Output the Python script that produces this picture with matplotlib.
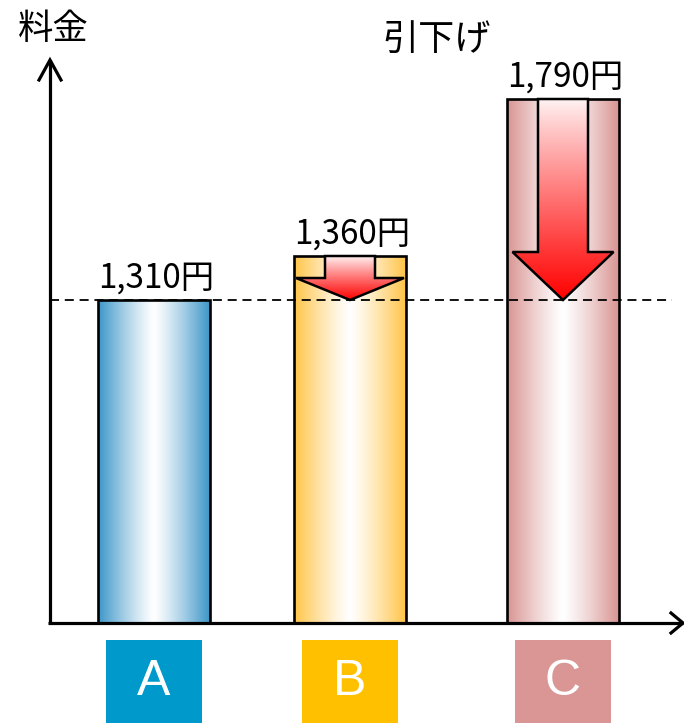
import numpy as np
import matplotlib
matplotlib.use("Agg")
import matplotlib.pyplot as plt
from matplotlib.patches import Rectangle, Polygon
from matplotlib.colors import to_rgb

plt.rcParams['font.family'] = ['Noto Sans CJK JP', 'DejaVu Sans']

# ----------------------------------------------------------------------
# Data (schematic chart: bar heights are drawing heights, not to scale)
# ----------------------------------------------------------------------
categories = ["A", "B", "C"]
price_labels = ["1,310円", "1,360円", "1,790円"]
bar_heights = [323, 367, 524]          # heights as drawn in the picture
reduce_to = bar_heights[0]             # every plan is cut down to A's level
y_title = "料金"
arrow_title = "引下げ"

# ----------------------------------------------------------------------
# Layout / style
# ----------------------------------------------------------------------
x_centers = [154, 350, 563]
bar_width = 112
box_width = 96
bar_edge_colors = ["#3C96C8", "#FFC447", "#D89492"]
box_colors = ["#0099CC", "#FFC000", "#D99694"]
shaft_width = 50
head_widths = [None, 108, 101]
head_lengths = [None, 22, 48]

fig = plt.figure(figsize=(6.84, 7.23), dpi=100)
ax = fig.add_axes([0, 0, 1, 1])
ax.set_xlim(0, 684)
ax.set_ylim(-100, 623)
ax.axis("off")


def h_gradient(color, n=256):
    x = np.linspace(0, 1, n)
    t = np.abs(2 * x - 1) ** 1.2
    c = np.array(to_rgb(color))
    rgb = 1 - t[:, None] * (1 - c[None, :])
    return rgb[None, :, :]


def v_gradient(n=256):
    y = np.linspace(0, 1, n)  # 0 = top, 1 = bottom
    top = np.array(to_rgb("#FFF4F4"))
    bot = np.array(to_rgb("#FF0000"))
    rgb = top[None, :] + (y[:, None] ** 0.9) * (bot - top)[None, :]
    return rgb[:, None, :]


# Bars with horizontal gradient
for xc, h, col in zip(x_centers, bar_heights, bar_edge_colors):
    x0 = xc - bar_width / 2
    ax.imshow(h_gradient(col), extent=[x0, x0 + bar_width, 0, h],
              aspect="auto", interpolation="bicubic", zorder=2)
    ax.add_patch(Rectangle((x0, 0), bar_width, h, fill=False,
                           edgecolor="black", linewidth=1.9, zorder=3))

# Reduction arrows (B and C) down to A's level
for i, (xc, h) in enumerate(zip(x_centers, bar_heights)):
    if h <= reduce_to or head_widths[i] is None:
        continue
    hw, hl = head_widths[i] / 2, head_lengths[i]
    sw = shaft_width / 2
    base = reduce_to + hl
    pts = [(xc - sw, h), (xc + sw, h), (xc + sw, base), (xc + hw, base),
           (xc, reduce_to), (xc - hw, base), (xc - sw, base)]
    poly = Polygon(pts, closed=True, facecolor="none", edgecolor="black",
                   linewidth=1.8, zorder=5, joinstyle="miter")
    ax.add_patch(poly)
    im = ax.imshow(v_gradient(), extent=[xc - hw, xc + hw, reduce_to, h],
                   aspect="auto", interpolation="bicubic", zorder=4)
    im.set_clip_path(poly)

# Dashed reference line
ax.plot([50, 672], [reduce_to, reduce_to], linestyle=(0, (5, 3.2)),
        color="black", linewidth=1.3, zorder=6)

# Value labels
for xc, h, lab in zip(x_centers, bar_heights, price_labels):
    ax.text(xc + 2, h + 12, lab, ha="center", va="baseline", fontsize=24,
            color="black", zorder=7)

# Axes with open arrow heads
ax.plot([50, 50], [0, 563], color="black", linewidth=2.3,
        solid_capstyle="butt", zorder=8)
ax.plot([39, 50, 61], [543, 563, 543], color="black", linewidth=2.3,
        solid_joinstyle="miter", zorder=8)
ax.plot([48, 683], [0, 0], color="black", linewidth=2.3,
        solid_capstyle="butt", zorder=8)
ax.plot([671, 683, 671], [10, 0, -10], color="black", linewidth=2.3,
        solid_joinstyle="miter", zorder=8)

# Titles
ax.text(53, 594, y_title, ha="center", va="center", fontsize=25.5)
ax.text(437, 583, arrow_title, ha="center", va="center", fontsize=26)

# Category boxes
for xc, cat, col in zip(x_centers, categories, box_colors):
    ax.add_patch(Rectangle((xc - box_width / 2, -113), box_width, 96,
                           facecolor=col, edgecolor="none", zorder=2))
    ax.text(xc, -59, cat, ha="center", va="center", fontsize=36,
            color="white", family=["Liberation Sans"], zorder=3)

fig.savefig("out.png", dpi=100)
